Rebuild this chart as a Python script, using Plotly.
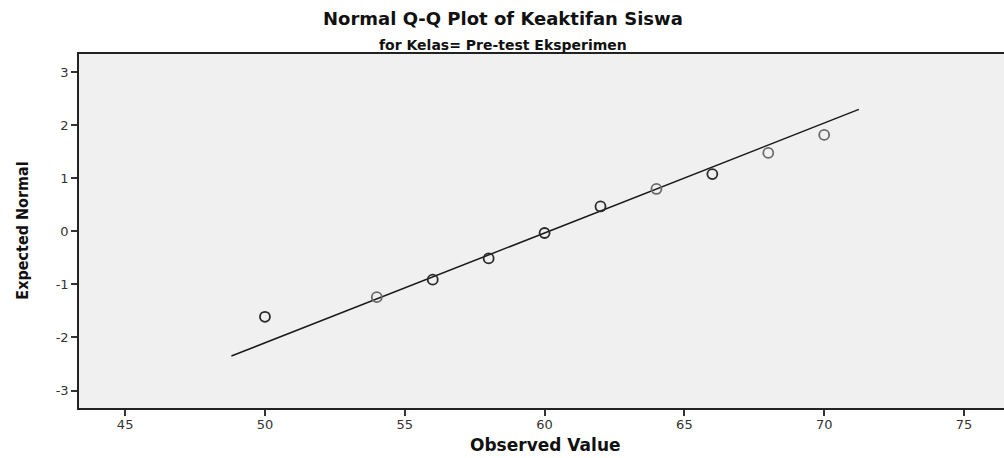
"""Normal Q-Q plot — Keaktifan Siswa, Pre-test Eksperimen."""

import plotly.graph_objects as go

# 数据
observed = [50, 54, 56, 58, 60, 62, 64, 66, 68, 70]
expected = [-1.61, -1.24, -0.91, -0.51, -0.03, 0.47, 0.80, 1.08, 1.48, 1.82]
# 重复观测的点颜色更深
point_colors = ["#2a2a2a", "#6a6a6a", "#2a2a2a", "#2a2a2a", "#2a2a2a",
                "#2a2a2a", "#6a6a6a", "#2a2a2a", "#6a6a6a", "#6a6a6a"]

line_x = [48.8, 71.24]
line_y = [-2.35, 2.30]

x_ticks = [45, 50, 55, 60, 65, 70, 75]
y_ticks = [-3, -2, -1, 0, 1, 2, 3]
y_tick_labels = ["-3", "-2", "-1", "0", "1", "2", "3"]

_PLOT_BG = "#f0f0f0"
_TEXT = "#111111"
_TICK_FONT = dict(family="DejaVu Sans, Arial", size=13, color="#333333")

fig = go.Figure()

fig.add_trace(go.Scatter(
    x=line_x,
    y=line_y,
    mode="lines",
    line=dict(color="#1a1a1a", width=1.5),
    hoverinfo="skip",
    showlegend=False,
))

fig.add_trace(go.Scatter(
    x=observed,
    y=expected,
    mode="markers",
    marker=dict(
        symbol="circle-open",
        size=10,
        color=point_colors,
        line=dict(width=1.8),
    ),
    showlegend=False,
))

fig.update_layout(
    width=1004,
    height=458,
    paper_bgcolor="white",
    plot_bgcolor=_PLOT_BG,
    margin=dict(l=79, r=0, t=54, b=50),
    showlegend=False,
    xaxis=dict(
        range=[43.35, 76.43],
        tickvals=x_ticks,
        ticks="outside",
        ticklen=6,
        tickwidth=1.5,
        tickcolor="#333333",
        tickfont=_TICK_FONT,
        ticklabelstandoff=-2,
        showgrid=False,
        zeroline=False,
        showline=True,
        linecolor="#222222",
        linewidth=1.5,
        mirror=True,
    ),
    yaxis=dict(
        range=[-3.33, 3.345],
        tickvals=y_ticks,
        ticktext=y_tick_labels,
        ticks="outside",
        ticklen=6,
        tickwidth=1.5,
        tickcolor="#333333",
        tickfont=_TICK_FONT,
        showgrid=False,
        zeroline=False,
        showline=True,
        linecolor="#222222",
        linewidth=1.5,
        mirror=False,
    ),
    annotations=[
        dict(
            text="<b>Normal Q-Q Plot of Keaktifan Siswa</b>",
            xref="paper", yref="paper",
            x=0.458, y=1.099,
            xanchor="center", yanchor="middle",
            showarrow=False,
            font=dict(family="DejaVu Sans, Arial", size=18, color=_TEXT),
        ),
        dict(
            text="<b>for Kelas= Pre-test Eksperimen</b>",
            xref="paper", yref="paper",
            x=0.458, y=1.026,
            xanchor="center", yanchor="middle",
            showarrow=False,
            font=dict(family="DejaVu Sans, Arial", size=14, color=_TEXT),
        ),
        dict(
            text="<b>Observed Value</b>",
            xref="paper", yref="paper",
            x=0.504, y=-0.105,
            xanchor="center", yanchor="middle",
            showarrow=False,
            font=dict(family="DejaVu Sans, Arial", size=17, color=_TEXT),
        ),
        dict(
            text="<b>Expected Normal</b>",
            xref="paper", yref="paper",
            x=-0.062, y=0.5,
            xanchor="center", yanchor="middle",
            textangle=-90,
            showarrow=False,
            font=dict(
                family="Liberation Sans Narrow, DejaVu Sans Condensed, Arial Narrow",
                size=16,
                color=_TEXT,
            ),
        ),
    ],
)

# 去掉页面默认的 8px 边距，让图表贴齐窗口
fig.write_html(
    "out.html",
    config={"displayModeBar": False},
    post_script="document.body.style.margin='0';",
)
